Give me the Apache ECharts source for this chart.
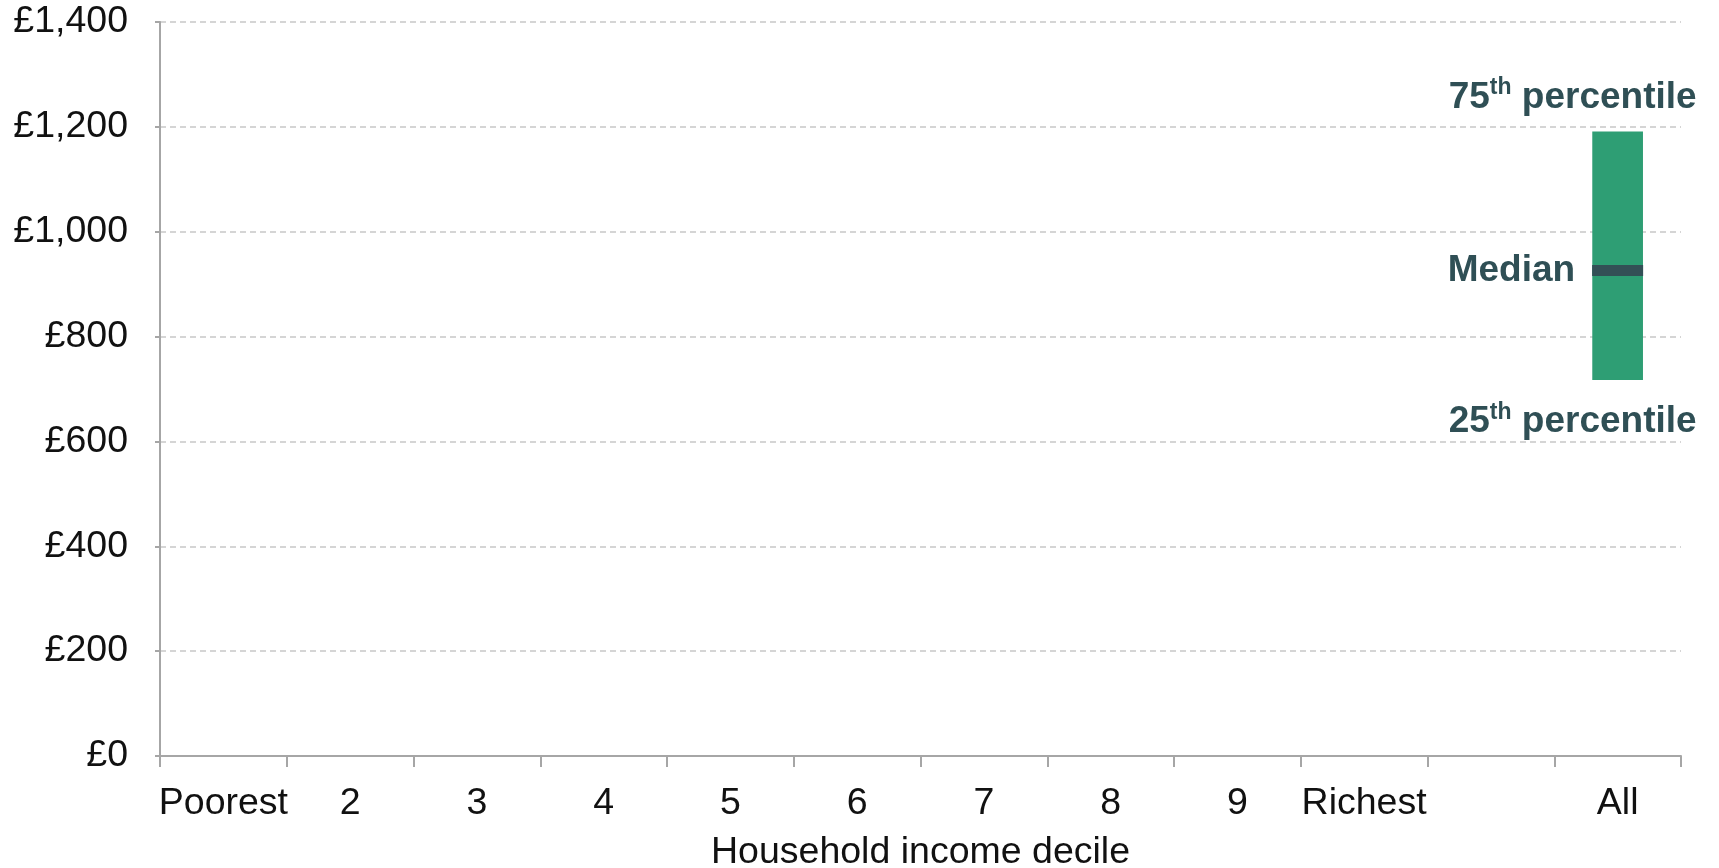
<!DOCTYPE html>
<html>
<head>
<meta charset="utf-8">
<script src="https://cdn.jsdelivr.net/npm/echarts@6/dist/echarts.min.js"></script>
<style>
  html, body { margin: 0; padding: 0; background: #fff; }
  #chart { width: 1719px; height: 868px; }
</style>
</head>
<body>
<div id="chart"></div>
<script>
// deciles, then a gap, then the whole population
var categories = ['Poorest', '2', '3', '4', '5', '6', '7', '8', '9', 'Richest', '', 'All'];
var p25 = [null, null, null, null, null, null, null, null, null, null, null, 717];
var median = [null, null, null, null, null, null, null, null, null, null, null, 926];
var p75 = [null, null, null, null, null, null, null, null, null, null, null, 1191];
var yTicks = [0, 200, 400, 600, 800, 1000, 1200, 1400];

var green = '#2e9e74';
var dark = '#2f4f55';
var font = '"Liberation Sans", Arial, sans-serif';

// floating bar = invisible base + range
var rangeVals = p75.map(function (v, i) { return v == null ? null : v - p25[i]; });
var medianPts = [], p25Pts = [], p75Pts = [];
categories.forEach(function (c, i) {
  if (median[i] != null) medianPts.push([c, median[i]]);
  if (p25[i] != null) p25Pts.push([c, p25[i]]);
  if (p75[i] != null) p75Pts.push([c, p75[i]]);
});

var annRich = {
  a: { fontFamily: font, fontSize: 37, fontWeight: 'bold', color: dark, lineHeight: 42 },
  sup: { fontFamily: font, fontSize: 23, fontWeight: 'bold', color: dark, verticalAlign: 'top', lineHeight: 42, padding: [0, 0, 12, 0] }
};

var myChart = echarts.init(document.getElementById('chart'));
myChart.setOption({
  animation: false,
  grid: { left: 160, right: 38, top: 22, bottom: 112, outerBoundsMode: 'none' },
  xAxis: {
    type: 'category',
    data: categories,
    boundaryGap: true,
    name: 'Household income decile',
    nameLocation: 'middle',
    nameGap: 78,
    nameTextStyle: { fontFamily: font, fontSize: 37.5, color: '#111' },
    axisLine: { lineStyle: { color: '#a6a6a6', width: 2 } },
    axisTick: { show: true, length: 11, lineStyle: { color: '#a6a6a6', width: 2 } },
    axisLabel: { interval: 0, margin: 29, fontFamily: font, fontSize: 37.5, color: '#111' }
  },
  yAxis: {
    type: 'value',
    min: yTicks[0],
    max: yTicks[yTicks.length - 1],
    interval: 200,
    axisLine: { show: true, lineStyle: { color: '#a6a6a6', width: 2 } },
    axisTick: { show: true, length: 5, lineStyle: { color: '#a6a6a6', width: 2 } },
    splitLine: { lineStyle: { color: '#c8c8c8', width: 1.5, type: [6, 4] } },
    axisLabel: {
      margin: 32, fontFamily: font, fontSize: 37.5, color: '#111',
      formatter: function (v) { return '£' + v.toLocaleString('en-GB'); }
    }
  },
  series: [
    {
      type: 'bar', stack: 'box', barWidth: '40%',
      data: p25,
      itemStyle: { color: 'transparent' },
      silent: true
    },
    {
      type: 'bar', stack: 'box', barWidth: '40%',
      data: rangeVals,
      itemStyle: { color: green }
    },
    {
      type: 'scatter',
      data: medianPts,
      symbol: 'rect',
      symbolSize: [51, 11],
      itemStyle: { color: '#335056', opacity: 1 },
      label: {
        show: true, position: 'left', distance: 17,
        formatter: 'Median',
        fontFamily: font, fontSize: 37, fontWeight: 'bold', color: dark
      },
      z: 5
    },
    {
      type: 'scatter',
      data: p75Pts,
      symbolSize: 0,
      itemStyle: { opacity: 1 },
      label: {
        show: true, position: 'top', distance: 13, offset: [-45, 0],
        formatter: '{a|75}{sup|th}{a| percentile}',
        rich: annRich
      }
    },
    {
      type: 'scatter',
      data: p25Pts,
      symbolSize: 0,
      itemStyle: { opacity: 1 },
      label: {
        show: true, position: 'bottom', distance: 21, offset: [-45, 0],
        formatter: '{a|25}{sup|th}{a| percentile}',
        rich: annRich
      }
    }
  ]
});
</script>
</body>
</html>
